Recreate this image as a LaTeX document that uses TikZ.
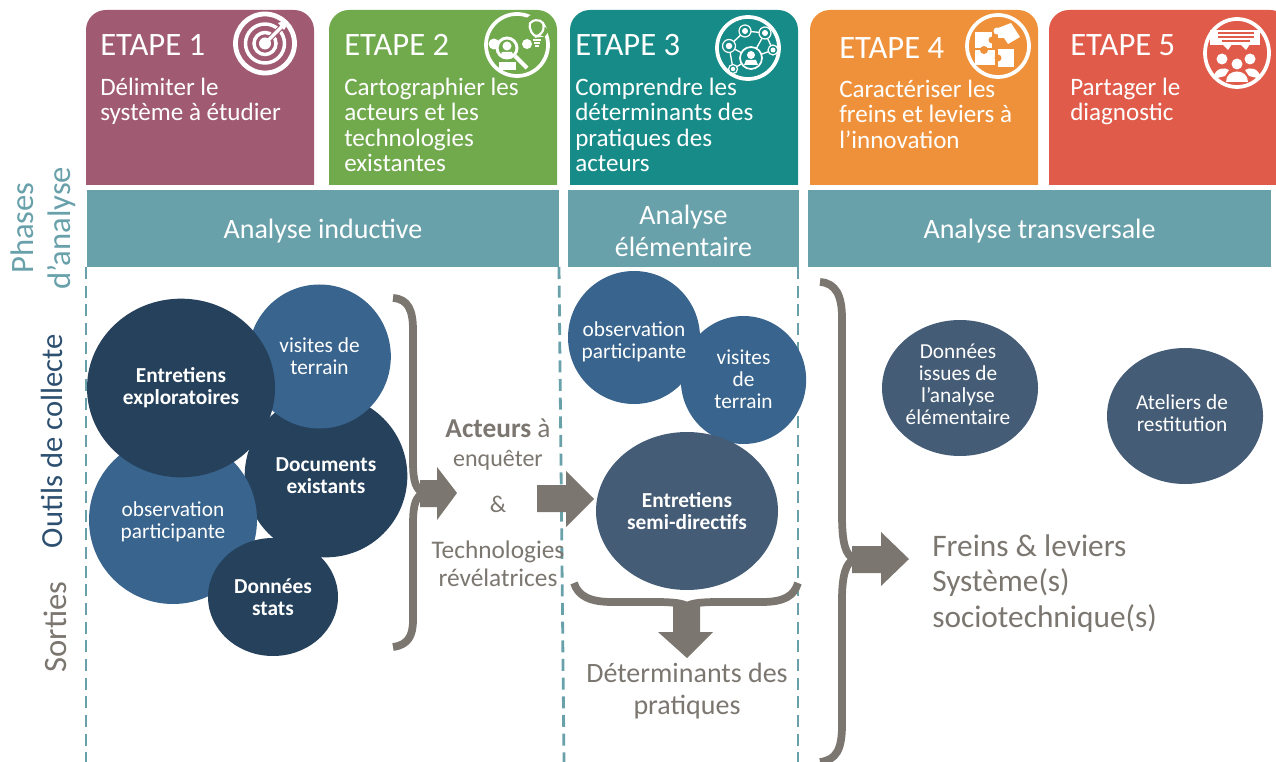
\documentclass[tikz,border=0pt]{standalone}
\usepackage{fontspec}
\setmainfont{Carlito}
\usetikzlibrary{shapes.geometric}
\definecolor{etapeA}{HTML}{A05B72}
\definecolor{etapeB}{HTML}{71A94D}
\definecolor{etapeC}{HTML}{178B87}
\definecolor{etapeD}{HTML}{EF913A}
\definecolor{etapeE}{HTML}{E05B49}
\definecolor{bande}{HTML}{69A1AB}
\definecolor{sombre}{HTML}{25415C}
\definecolor{moyen}{HTML}{38648D}
\definecolor{ardoise}{HTML}{445C75}
\definecolor{taupe}{HTML}{7B766F}
\tikzset{
	titre/.style={anchor=base west, inner sep=0, text=white, font=\fontsize{24.5}{24.5}\selectfont},
	soustitre/.style={anchor=north west, inner sep=0, align=left, text=white, font=\fontsize{18.8}{18.9}\selectfont},
	bandeau/.style={inner sep=0, align=center, text=white, font=\fontsize{21}{24}\selectfont},
	bulle/.style={ellipse, inner sep=-8pt, align=center, text=white, font=\fontsize{16}{16.5}\selectfont},
	gras/.style={font=\fontsize{16}{16.5}\selectfont\bfseries},
	bulletexte/.style={inner sep=0, align=center, text=white, font=\fontsize{16}{16.5}\selectfont},
	accolade/.style={taupe, line width=5.8pt},
	legende/.style={inner sep=0, align=center, text=taupe},
	cote/.style={rotate=90, inner sep=0, align=center, font=\fontsize{24.5}{28}\selectfont},
	anneau/.style={white, line width=2.8pt}
}
\begin{document}
\begin{tikzpicture}[x=0.75pt,y=-0.75pt]
	\useasboundingbox (0,0) rectangle (1276,762);

	\fill [etapeA] (86,185) [rounded corners=15pt] -- (86,10) -- (314,10) [sharp corners] -- (314,185) -- cycle;
	\fill [etapeB] (329,185) [rounded corners=15pt] -- (329,10) -- (557,10) [sharp corners] -- (557,185) -- cycle;
	\fill [etapeC] (570,185) [rounded corners=15pt] -- (570,10) -- (798,10) [sharp corners] -- (798,185) -- cycle;
	\fill [etapeD] (810,185) [rounded corners=15pt] -- (810,10) -- (1038,10) [sharp corners] -- (1038,185) -- cycle;
	\fill [etapeE] (1049,185) [rounded corners=15pt] -- (1049,10) -- (1290,10) [sharp corners] -- (1290,185) -- cycle;

	\node [titre] (titreA) at (100,55.5) {ETAPE 1};
	\node [titre] (titreB) at (344,55.5) {ETAPE 2};
	\node [titre] (titreC) at (575,55.5) {ETAPE 3};
	\node [titre] (titreD) at (839,58.5) {ETAPE 4};
	\node [titre] (titreE) at (1070,55.5) {ETAPE 5};

	\node [soustitre] (texteA) at (100,78) {Délimiter le\\système à étudier};
	\node [soustitre] (texteB) at (344,78) {Cartographier les\\acteurs et les\\technologies\\existantes};
	\node [soustitre] (texteC) at (575,78) {Comprendre les\\déterminants des\\pratiques des\\acteurs};
	\node [soustitre] (texteD) at (839,80) {Caractériser les\\freins et leviers à\\l’innovation};
	\node [soustitre] (texteE) at (1070,78) {Partager le\\diagnostic};

	\draw [white, line width=3.6pt] (265,43.5) circle (29.5);
	\draw [white, line width=2.6pt] (265,43.5) circle (19.5);
	\draw [white, line width=2.6pt] (265,43.5) circle (11);
	\draw [etapeA, line width=4pt] (265,43.5) -- (285,23.5);
	\fill [white] (265,43.5) circle (6);
	\draw [white, line width=2.4pt] (265,43.5) -- (282,26.5);
	\fill [white] (278,23) -- (284,21) -- (287,25) -- (284,30) -- cycle;

	\draw [anneau] (517,45) circle (31);
	\fill [etapeB] (536,27) circle (13);
	\draw [white, line width=1.6pt, rounded corners=4pt] (528,22) -- (541,19) -- (545,27) -- (540,36) -- (533,37) -- cycle;
	\draw [white, line width=1.4pt] (533,40) -- (541,40) (534,43) -- (540,43) (535,46) -- (539,46);
	\fill [white] (494,44) circle (5.5);
	\fill [white] (527,44) circle (5);
	\draw [white, line width=2.2pt] (507,48) circle (10);
	\fill [white] (507,46) circle (4.5);
	\fill [white] (500,57) -- (514,57) -- (512,52) -- (502,52) -- cycle;
	\draw [white, line width=3pt] (515,56) -- (527,68);
	\fill [white] (499,62) rectangle (516,70);

	\draw [anneau] (748,48) circle (31);
	\draw [white, line width=1pt] (745,31) -- (765,33) -- (773,50) -- (751,58) -- (729,46) -- (745,31) (765,33) -- (751,58) (729,46) -- (733,69) -- (751,58);
	\foreach \nx/\ny/\nr in {745/31/6,765/33/6,729/46/6.5,773/50/5,733/69/4.5}
		{\fill [etapeC] (\nx,\ny) circle (\nr); \draw [white, line width=0.9pt] (\nx,\ny) circle (\nr); \fill [white] (\nx,\ny) circle (\nr*0.5);}
	\fill [etapeC] (751,58) circle (11);
	\draw [white, line width=1.3pt] (751,58) circle (11);
	\fill [white] (751,55) circle (4);
	\fill [white] (744,65) -- (758,65) -- (756,60) -- (746,60) -- cycle;

	\draw [anneau] (998,46) circle (31);
	\fill [white] (975,32) rectangle (992,48);
	\fill [etapeD] (992,40) circle (3.5);
	\fill [white] (975,50) rectangle (995,65);
	\fill [etapeD] (984,50) circle (4);
	\fill [white] (998,49) rectangle (1014,67);
	\fill [etapeD] (998,58) circle (3.5);
	\fill [white] (998,28) -- (1011,23) -- (1020,37) -- (1008,44) -- (1004,38) -- (998,38) -- cycle;
	\fill [white] (997,31) circle (3.5);

	\draw [anneau] (1237,53) ellipse (32 and 34);
	\fill [white] (1210,30) rectangle (1260,45);
	\fill [white] (1222,44) -- (1232,44) -- (1228,50) -- cycle;
	\fill [white] (1240,44) -- (1250,44) -- (1246,50) -- cycle;
	\draw [etapeE, line width=1pt] (1218,33) -- (1254,33) (1218,37) -- (1254,37) (1222,41) -- (1250,41);
	\fill [white] (1222,59) circle (5.5);
	\fill [white] (1250,59) circle (5.5);
	\fill [white] (1237,64) circle (5.5);
	\fill [white] (1213,79) .. controls (1215,67) and (1225,67) .. (1229,70) -- (1225,76) -- cycle;
	\fill [white] (1261,79) .. controls (1259,67) and (1249,67) .. (1245,70) -- (1249,76) -- cycle;
	\fill [white] (1226,82) .. controls (1226,68) and (1248,68) .. (1248,82) -- cycle;

	\draw [bande, line width=2.1pt, dash pattern=on 9pt off 5pt] (86,267) -- (86,762);
	\draw [bande, line width=2.1pt, dash pattern=on 9pt off 5pt] (559,267) -- (564,762);
	\draw [bande, line width=2.1pt, dash pattern=on 9pt off 5pt] (798,267) -- (798,762);

	\fill [bande] (87,190) rectangle (559,267);
	\fill [bande] (568,190) rectangle (799,267);
	\fill [bande] (808,190) rectangle (1271,267);

	\node [bandeau] (phaseA) at (323,231) {Analyse inductive};
	\node [bandeau] (phaseB) at (683.5,230.5) {Analyse\\élémentaire};
	\node [bandeau] (phaseC) at (1039.5,231) {Analyse transversale};

	\node [cote, text=bande] (phases) at (43,228) {Phases\\d’analyse};
	\node [cote, text=moyen!80!black, font=\fontsize{23}{28}\selectfont] (outils) at (52,441) {Outils de collecte};
	\node [cote, text=taupe] (sorties) at (55,627) {Sorties};

	\node [bulle, fill=sombre, minimum width=122pt, minimum height=122pt, gras] (documents) at (326,476) {Documents\\existants};
	\node [bulle, fill=moyen, minimum width=107pt, minimum height=108pt] (visitesA) at (319.5,356.5) {visites de\\terrain};
	\node [bulle, fill=moyen, minimum width=126pt, minimum height=126pt] (observationA) at (173,520) {};
	\node [bulletexte] (observationAtexte) at (173,522) {observation\\participante};
	\node [bulle, fill=sombre, minimum width=141pt, minimum height=134pt, gras] (exploratoires) at (181,388) {Entretiens\\exploratoires};
	\node [bulle, fill=sombre, minimum width=97.5pt, minimum height=88.5pt, gras] (stats) at (273,597) {Données\\stats};

	\node [bulle, fill=moyen, minimum width=99pt, minimum height=99.75pt] (observationB) at (634,337.5) {};
	\node [bulletexte] (observationBtexte) at (634,342) {observation\\participante};
	\node [bulle, fill=moyen, minimum width=94pt, minimum height=96pt] (visitesB) at (743.5,380) {};
	\node [bulletexte] (visitesBtexte) at (743.5,379) {visites\\de\\terrain};
	\node [bulle, fill=ardoise, minimum width=136.5pt, minimum height=118.5pt, gras] (semidirectifs) at (687,511) {Entretiens\\semi-directifs};

	\node [bulle, fill=ardoise, minimum width=117pt, minimum height=102pt] (elementaire) at (960,388) {};
	\node [bulletexte] (elementairetexte) at (958,384) {Données\\issues de\\l’analyse\\élémentaire};
	\node [bulle, fill=ardoise, minimum width=117pt, minimum height=102pt] (ateliers) at (1185,416) {};
	\node [bulletexte] (atelierstexte) at (1182,413) {Ateliers de\\restitution};

	\draw [accolade] (393,298) .. controls (408,299) and (413,310) .. (413,330) -- (413,462) .. controls (413,482) and (416,490) .. (424,493) .. controls (416,496) and (413,504) .. (413,524) -- (413,620) .. controls (413,636) and (408,645) .. (393,647);
	\fill [taupe] (420,480) -- (437,480) -- (437,467) -- (457,493) -- (437,520) -- (437,507) -- (420,507) -- cycle;
	\fill [taupe] (537,485) -- (566,485) -- (566,471) -- (594,499) -- (566,527) -- (566,512) -- (537,512) -- cycle;

	\draw [accolade] (574,583) .. controls (578,596) and (590,602) .. (612,602) -- (655,602) .. controls (672,602) and (682,603) .. (687,606) .. controls (692,603) and (702,602) .. (719,602) -- (762,602) .. controls (784,602) and (794,596) .. (798,583);
	\fill [taupe] (673,604) -- (700,604) -- (700,632) -- (713,632) -- (687,658) -- (658,632) -- (673,632) -- cycle;

	\draw [accolade] (820,282) .. controls (836,283) and (842,296) .. (842,318) -- (842,515) .. controls (842,545) and (846,555) .. (854,559) .. controls (846,563) and (842,575) .. (842,600) -- (842,725) .. controls (842,750) and (836,760) .. (820,762);
	\fill [taupe] (852,546) -- (881,546) -- (881,532) -- (909,559) -- (881,586) -- (881,573) -- (852,573) -- cycle;

	\node [legende, font=\fontsize{20.5}{20.5}\selectfont] (acteurs) at (498,428) {\textbf{Acteurs} à};
	\node [legende, font=\fontsize{18}{18}\selectfont] (enqueter) at (498,460) {enquêter};
	\node [legende, font=\fontsize{18}{18}\selectfont] (et) at (498,504) {\&};
	\node [legende, font=\fontsize{19}{21}\selectfont] (technologies) at (498,564) {Technologies\\révélatrices};
	\node [legende, font=\fontsize{21}{24}\selectfont] (determinants) at (687,691.5) {Déterminants des\\pratiques};
	\node [legende, align=left, anchor=west, font=\fontsize{23.5}{26.7}\selectfont] (freins) at (932,583.5) {Freins \& leviers\\Système(s)\\sociotechnique(s)};
\end{tikzpicture}
\end{document}
